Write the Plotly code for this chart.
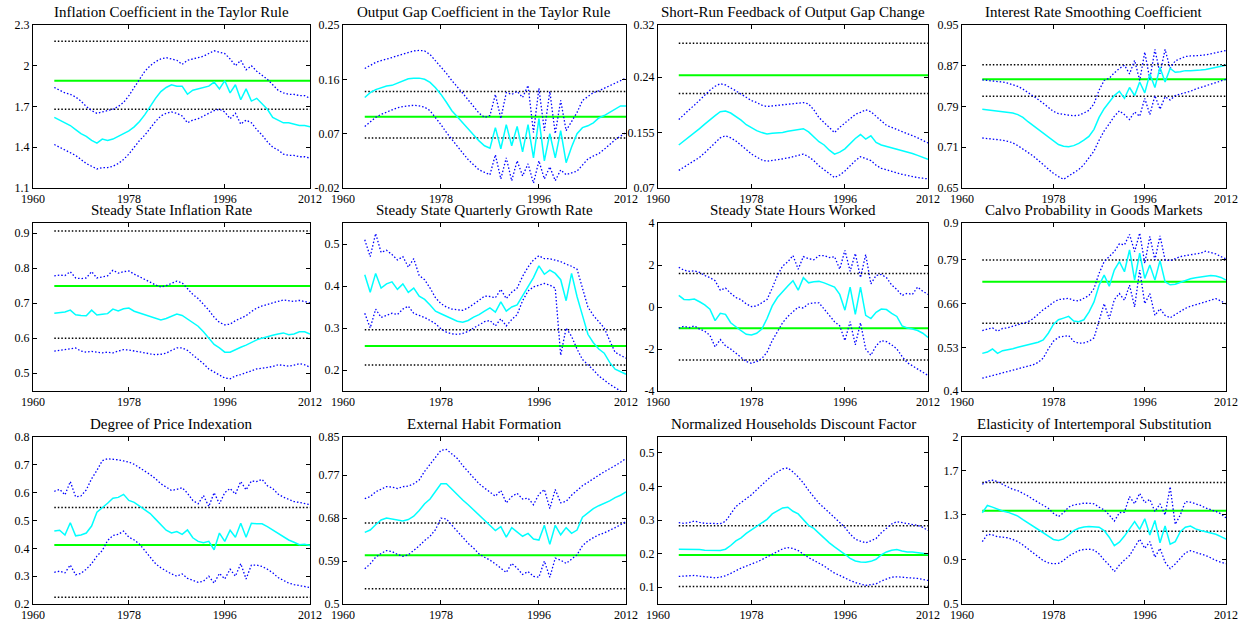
import plotly.graph_objects as go

# ---------------- data ----------------
years = list(range(1964, 2013))

titles = [
    "Inflation Coefficient in the Taylor Rule",
    "Output Gap Coefficient in the Taylor Rule",
    "Short-Run Feedback of Output Gap Change",
    "Interest Rate Smoothing Coefficient",
    "Steady State Inflation Rate",
    "Steady State Quarterly Growth Rate",
    "Steady State Hours Worked",
    "Calvo Probability in Goods Markets",
    "Degree of Price Indexation",
    "External Habit Formation",
    "Normalized Households Discount Factor",
    "Elasticity of Intertemporal Substitution",
]

# P1 Inflation coefficient
infl_upper = [1.84, 1.82, 1.80, 1.79, 1.77, 1.74, 1.70, 1.67, 1.65, 1.66,
              1.67, 1.68, 1.70, 1.73, 1.78, 1.84, 1.91, 1.96, 2.00, 2.03,
              2.05, 2.06, 2.05, 2.04, 2.01, 2.04, 2.05, 2.06, 2.07, 2.09,
              2.11, 2.10, 2.09, 2.05, 2.00, 2.04, 1.97, 2.00, 1.96, 1.93,
              1.90, 1.86, 1.82, 1.80, 1.79, 1.79, 1.78, 1.78, 1.76]
infl_mid = [1.62, 1.60, 1.58, 1.56, 1.53, 1.50, 1.48, 1.45, 1.43, 1.46,
            1.45, 1.46, 1.48, 1.50, 1.52, 1.55, 1.59, 1.64, 1.70, 1.76,
            1.81, 1.84, 1.86, 1.85, 1.85, 1.79, 1.82, 1.83, 1.84, 1.85,
            1.88, 1.83, 1.89, 1.80, 1.86, 1.75, 1.83, 1.74, 1.76, 1.72,
            1.68, 1.62, 1.60, 1.58, 1.58, 1.57, 1.56, 1.56, 1.55]
infl_lower = [1.42, 1.40, 1.38, 1.36, 1.34, 1.31, 1.28, 1.26, 1.24, 1.25,
              1.25, 1.26, 1.28, 1.31, 1.35, 1.40, 1.45, 1.49, 1.54, 1.59,
              1.63, 1.65, 1.66, 1.65, 1.63, 1.58, 1.60, 1.61, 1.63, 1.65,
              1.67, 1.68, 1.66, 1.61, 1.65, 1.57, 1.60, 1.58, 1.53, 1.49,
              1.44, 1.40, 1.38, 1.35, 1.34, 1.34, 1.33, 1.33, 1.32]

# P2 Output gap coefficient
gap_upper = [0.178, 0.183, 0.188, 0.191, 0.193, 0.196, 0.199, 0.202, 0.205, 0.207,
             0.208, 0.207, 0.201, 0.191, 0.181, 0.170, 0.158, 0.148, 0.137, 0.126,
             0.115, 0.104, 0.097, 0.100, 0.135, 0.095, 0.138, 0.135, 0.140, 0.130,
             0.150, 0.072, 0.145, 0.075, 0.140, 0.070, 0.125, 0.075, 0.090, 0.105,
             0.125, 0.132, 0.138, 0.141, 0.145, 0.150, 0.154, 0.158, 0.162]
gap_mid = [0.130, 0.138, 0.143, 0.146, 0.149, 0.150, 0.154, 0.158, 0.161, 0.162,
           0.162, 0.160, 0.155, 0.146, 0.135, 0.122, 0.108, 0.098, 0.088, 0.078,
           0.068, 0.058, 0.050, 0.046, 0.080, 0.045, 0.085, 0.050, 0.082, 0.040,
           0.085, 0.030, 0.095, 0.025, 0.070, 0.030, 0.075, 0.022, 0.048, 0.070,
           0.080, 0.083, 0.088, 0.096, 0.100, 0.105, 0.110, 0.116, 0.116]
gap_lower = [0.082, 0.090, 0.097, 0.102, 0.106, 0.110, 0.113, 0.115, 0.116, 0.117,
             0.116, 0.114, 0.108, 0.097, 0.085, 0.072, 0.060, 0.050, 0.038, 0.027,
             0.018, 0.010, 0.006, 0.002, 0.035, -0.005, 0.030, -0.008, 0.025, 0.000,
             0.020, -0.012, 0.025, -0.005, 0.015, -0.008, 0.010, 0.002, 0.005, 0.008,
             0.018, 0.028, 0.033, 0.037, 0.044, 0.052, 0.060, 0.066, 0.072]

# P3 Short-run feedback of output gap change
srf_upper = [0.175, 0.183, 0.190, 0.197, 0.205, 0.213, 0.220, 0.226, 0.230, 0.228,
             0.224, 0.219, 0.214, 0.209, 0.204, 0.201, 0.197, 0.195, 0.196, 0.197,
             0.197, 0.198, 0.199, 0.200, 0.201, 0.199, 0.190, 0.178, 0.170, 0.163,
             0.155, 0.163, 0.170, 0.177, 0.183, 0.186, 0.190, 0.187, 0.180, 0.172,
             0.166, 0.163, 0.160, 0.157, 0.154, 0.151, 0.147, 0.143, 0.139]
srf_mid = [0.136, 0.142, 0.148, 0.154, 0.161, 0.168, 0.175, 0.181, 0.187, 0.188,
           0.185, 0.180, 0.174, 0.167, 0.162, 0.158, 0.155, 0.153, 0.154, 0.154,
           0.155, 0.157, 0.158, 0.160, 0.161, 0.156, 0.148, 0.141, 0.136, 0.128,
           0.122, 0.125, 0.130, 0.138, 0.146, 0.152, 0.145, 0.150, 0.140, 0.136,
           0.134, 0.131, 0.129, 0.127, 0.125, 0.123, 0.120, 0.117, 0.114]
srf_lower = [0.097, 0.102, 0.106, 0.111, 0.117, 0.124, 0.132, 0.140, 0.147, 0.150,
             0.147, 0.142, 0.136, 0.129, 0.122, 0.117, 0.113, 0.111, 0.112, 0.113,
             0.114, 0.116, 0.118, 0.120, 0.122, 0.118, 0.112, 0.104, 0.098, 0.091,
             0.086, 0.090, 0.096, 0.104, 0.112, 0.118, 0.115, 0.112, 0.105, 0.100,
             0.098, 0.095, 0.093, 0.091, 0.089, 0.088, 0.086, 0.085, 0.084]

# P4 Interest rate smoothing
smooth_upper = [0.849, 0.848, 0.848, 0.847, 0.845, 0.843, 0.840, 0.837, 0.832, 0.826,
                0.819, 0.813, 0.806, 0.798, 0.791, 0.787, 0.785, 0.784, 0.783, 0.784,
                0.788, 0.793, 0.805, 0.830, 0.848, 0.852, 0.862, 0.870, 0.876, 0.860,
                0.885, 0.848, 0.900, 0.850, 0.905, 0.860, 0.905, 0.870, 0.884, 0.888,
                0.892, 0.893, 0.893, 0.894, 0.895, 0.897, 0.898, 0.900, 0.903]
smooth_mid = [0.795, 0.794, 0.793, 0.792, 0.791, 0.790, 0.788, 0.785, 0.780, 0.772,
              0.765, 0.758, 0.751, 0.744, 0.737, 0.730, 0.727, 0.726, 0.728, 0.732,
              0.738, 0.745, 0.758, 0.780, 0.796, 0.808, 0.820, 0.828, 0.815, 0.835,
              0.820, 0.845, 0.825, 0.860, 0.835, 0.872, 0.845, 0.870, 0.863, 0.864,
              0.866, 0.866, 0.866, 0.867, 0.868, 0.870, 0.872, 0.874, 0.876]
smooth_lower = [0.742, 0.741, 0.741, 0.740, 0.738, 0.736, 0.733, 0.728, 0.722, 0.716,
                0.709, 0.701, 0.693, 0.685, 0.677, 0.671, 0.666, 0.672, 0.678, 0.684,
                0.693, 0.705, 0.718, 0.738, 0.755, 0.768, 0.782, 0.792, 0.785, 0.776,
                0.790, 0.782, 0.815, 0.785, 0.820, 0.795, 0.818, 0.812, 0.820, 0.823,
                0.825, 0.828, 0.832, 0.835, 0.838, 0.840, 0.843, 0.846, 0.850]

# P5 Steady state inflation
ssinf_upper = [0.778, 0.780, 0.779, 0.790, 0.772, 0.770, 0.772, 0.790, 0.772, 0.775,
               0.778, 0.794, 0.786, 0.790, 0.792, 0.783, 0.776, 0.769, 0.760, 0.752,
               0.746, 0.750, 0.756, 0.763, 0.758, 0.740, 0.725, 0.713, 0.698, 0.680,
               0.660, 0.645, 0.638, 0.640, 0.650, 0.658, 0.664, 0.676, 0.686, 0.692,
               0.697, 0.700, 0.705, 0.709, 0.706, 0.705, 0.708, 0.705, 0.701]
ssinf_mid = [0.671, 0.672, 0.675, 0.680, 0.667, 0.665, 0.664, 0.680, 0.666, 0.668,
             0.670, 0.683, 0.678, 0.684, 0.686, 0.677, 0.672, 0.666, 0.662, 0.657,
             0.652, 0.656, 0.662, 0.669, 0.665, 0.655, 0.645, 0.634, 0.618, 0.600,
             0.582, 0.572, 0.560, 0.560, 0.568, 0.574, 0.580, 0.588, 0.595, 0.600,
             0.605, 0.608, 0.612, 0.615, 0.610, 0.612, 0.618, 0.618, 0.612]
ssinf_lower = [0.563, 0.565, 0.567, 0.570, 0.572, 0.563, 0.560, 0.562, 0.560, 0.558,
               0.560, 0.558, 0.563, 0.567, 0.566, 0.564, 0.561, 0.558, 0.555, 0.553,
               0.554, 0.557, 0.565, 0.572, 0.572, 0.565, 0.552, 0.540, 0.527, 0.512,
               0.503, 0.495, 0.486, 0.484, 0.492, 0.496, 0.502, 0.508, 0.512, 0.514,
               0.516, 0.519, 0.524, 0.522, 0.520, 0.523, 0.527, 0.524, 0.517]

# P6 Steady state quarterly growth
growth_upper = [0.510, 0.470, 0.525, 0.480, 0.485, 0.475, 0.462, 0.470, 0.445, 0.465,
                0.425, 0.415, 0.395, 0.372, 0.358, 0.350, 0.345, 0.343, 0.342, 0.348,
                0.356, 0.366, 0.376, 0.375, 0.372, 0.392, 0.370, 0.385, 0.395, 0.423,
                0.445, 0.462, 0.472, 0.465, 0.465, 0.462, 0.458, 0.452, 0.447, 0.440,
                0.395, 0.350, 0.330, 0.315, 0.300, 0.270, 0.242, 0.235, 0.228]
growth_mid = [0.427, 0.385, 0.430, 0.395, 0.405, 0.410, 0.392, 0.405, 0.385, 0.395,
              0.376, 0.368, 0.355, 0.340, 0.334, 0.328, 0.322, 0.316, 0.314, 0.318,
              0.326, 0.332, 0.340, 0.348, 0.338, 0.362, 0.340, 0.350, 0.355, 0.376,
              0.400, 0.420, 0.448, 0.428, 0.438, 0.430, 0.415, 0.365, 0.430, 0.375,
              0.330, 0.285, 0.265, 0.250, 0.240, 0.218, 0.202, 0.195, 0.190]
growth_lower = [0.335, 0.300, 0.345, 0.325, 0.330, 0.335, 0.332, 0.345, 0.352, 0.335,
                0.330, 0.325, 0.318, 0.310, 0.298, 0.290, 0.286, 0.285, 0.287, 0.292,
                0.300, 0.308, 0.315, 0.318, 0.305, 0.322, 0.305, 0.320, 0.332, 0.365,
                0.388, 0.398, 0.402, 0.406, 0.402, 0.395, 0.235, 0.300, 0.280, 0.250,
                0.225, 0.213, 0.200, 0.186, 0.175, 0.166, 0.158, 0.150, 0.145]

# P7 Steady state hours worked
hours_upper = [1.89, 1.75, 1.70, 1.72, 1.65, 1.50, 1.40, 1.25, 0.80, 0.90,
               0.65, 0.45, 0.35, 0.15, 0.02, 0.05, 0.20, 0.36, 0.90, 1.50,
               1.95, 2.15, 2.45, 1.80, 2.40, 2.30, 2.25, 2.45, 2.45, 2.35,
               2.40, 1.80, 2.70, 1.70, 2.55, 1.40, 2.50, 1.10, 1.50, 1.55,
               1.40, 1.05, 0.83, 0.55, 0.65, 0.60, 0.95, 0.75, 0.60]
hours_mid = [0.55, 0.36, 0.35, 0.38, 0.25, 0.10, -0.10, -0.65, -0.30, -0.35,
             -0.75, -0.95, -1.13, -1.30, -1.33, -1.25, -1.05, -0.55, 0.05, 0.45,
             0.75, 1.00, 1.25, 0.80, 1.40, 1.15, 1.20, 1.22, 1.15, 1.05,
             0.95, 0.60, -0.15, 0.95, -0.35, 0.95, -0.40, -0.55, -0.25, -0.10,
             -0.12, -0.30, -0.45, -0.90, -1.00, -1.05, -1.12, -1.25, -1.45]
hours_lower = [-1.00, -0.92, -0.98, -0.90, -1.05, -1.15, -1.35, -1.90, -1.55, -1.85,
               -2.00, -2.20, -2.40, -2.60, -2.68, -2.60, -2.45, -2.15, -1.60, -1.15,
               -0.75, -0.45, -0.20, 0.00, -0.05, 0.15, 0.20, 0.20, -0.10, -0.40,
               -0.70, -0.90, -1.60, -0.70, -1.80, -0.75, -2.00, -2.30, -1.85, -1.60,
               -1.65, -1.80, -2.00, -2.35, -2.65, -2.80, -2.95, -3.10, -3.26]

# P8 Calvo probability
calvo_upper = [0.580, 0.585, 0.588, 0.578, 0.586, 0.588, 0.593, 0.597, 0.601, 0.606,
               0.615, 0.630, 0.642, 0.652, 0.664, 0.672, 0.675, 0.676, 0.670, 0.668,
               0.676, 0.684, 0.705, 0.750, 0.785, 0.800, 0.815, 0.838, 0.835, 0.866,
               0.815, 0.870, 0.780, 0.860, 0.790, 0.862, 0.790, 0.788, 0.795, 0.800,
               0.803, 0.806, 0.807, 0.810, 0.816, 0.812, 0.808, 0.800, 0.793]
calvo_mid = [0.512, 0.516, 0.525, 0.512, 0.520, 0.522, 0.526, 0.530, 0.534, 0.537,
             0.540, 0.545, 0.552, 0.572, 0.598, 0.612, 0.617, 0.622, 0.608, 0.606,
             0.612, 0.635, 0.665, 0.715, 0.745, 0.712, 0.760, 0.785, 0.755, 0.820,
             0.730, 0.810, 0.735, 0.775, 0.730, 0.788, 0.725, 0.716, 0.718, 0.724,
             0.728, 0.734, 0.737, 0.740, 0.741, 0.744, 0.742, 0.738, 0.730]
calvo_lower = [0.438, 0.442, 0.445, 0.448, 0.452, 0.456, 0.460, 0.465, 0.470, 0.474,
               0.478, 0.485, 0.498, 0.525, 0.548, 0.560, 0.562, 0.565, 0.548, 0.542,
               0.543, 0.548, 0.558, 0.610, 0.660, 0.615, 0.672, 0.690, 0.670, 0.715,
               0.650, 0.760, 0.660, 0.690, 0.625, 0.645, 0.625, 0.618, 0.628, 0.638,
               0.646, 0.652, 0.657, 0.662, 0.667, 0.672, 0.675, 0.668, 0.659]

# P9 Price indexation
index_upper = [0.605, 0.612, 0.592, 0.640, 0.585, 0.588, 0.610, 0.650, 0.680, 0.715,
               0.722, 0.721, 0.718, 0.714, 0.710, 0.702, 0.690, 0.676, 0.665, 0.650,
               0.632, 0.620, 0.608, 0.612, 0.618, 0.598, 0.572, 0.560, 0.590, 0.550,
               0.600, 0.560, 0.600, 0.615, 0.595, 0.640, 0.610, 0.642, 0.640, 0.648,
               0.625, 0.615, 0.595, 0.584, 0.575, 0.568, 0.565, 0.562, 0.557]
index_mid = [0.462, 0.465, 0.448, 0.492, 0.445, 0.448, 0.455, 0.480, 0.530, 0.545,
             0.562, 0.580, 0.583, 0.594, 0.572, 0.565, 0.552, 0.541, 0.525, 0.505,
             0.486, 0.465, 0.455, 0.460, 0.450, 0.466, 0.438, 0.425, 0.420, 0.425,
             0.395, 0.455, 0.425, 0.465, 0.440, 0.490, 0.440, 0.490, 0.488, 0.488,
             0.478, 0.466, 0.455, 0.440, 0.430, 0.422, 0.413, 0.415, 0.410]
index_lower = [0.314, 0.318, 0.312, 0.340, 0.305, 0.310, 0.325, 0.345, 0.372, 0.392,
               0.428, 0.446, 0.450, 0.462, 0.440, 0.430, 0.415, 0.392, 0.368, 0.345,
               0.330, 0.318, 0.308, 0.300, 0.308, 0.292, 0.285, 0.278, 0.282, 0.300,
               0.275, 0.310, 0.290, 0.325, 0.300, 0.345, 0.290, 0.340, 0.340, 0.335,
               0.325, 0.312, 0.295, 0.285, 0.275, 0.270, 0.266, 0.262, 0.259]

# P10 External habit
habit_upper = [0.721, 0.725, 0.735, 0.740, 0.746, 0.745, 0.742, 0.746, 0.747, 0.752,
               0.760, 0.778, 0.792, 0.808, 0.822, 0.824, 0.815, 0.805, 0.790, 0.777,
               0.765, 0.752, 0.743, 0.735, 0.726, 0.738, 0.712, 0.725, 0.732, 0.720,
               0.722, 0.708, 0.730, 0.740, 0.700, 0.740, 0.712, 0.715, 0.728, 0.738,
               0.748, 0.755, 0.763, 0.770, 0.777, 0.783, 0.790, 0.797, 0.805]
habit_mid = [0.650, 0.655, 0.666, 0.676, 0.680, 0.678, 0.676, 0.674, 0.677, 0.684,
             0.696, 0.710, 0.720, 0.736, 0.752, 0.752, 0.740, 0.728, 0.718, 0.708,
             0.697, 0.686, 0.677, 0.666, 0.654, 0.662, 0.640, 0.660, 0.650, 0.642,
             0.648, 0.636, 0.634, 0.665, 0.625, 0.665, 0.645, 0.660, 0.648, 0.655,
             0.682, 0.692, 0.700, 0.706, 0.711, 0.716, 0.723, 0.728, 0.735]
habit_lower = [0.574, 0.584, 0.598, 0.606, 0.612, 0.610, 0.604, 0.600, 0.603, 0.612,
               0.622, 0.633, 0.642, 0.656, 0.680, 0.678, 0.665, 0.652, 0.640, 0.627,
               0.617, 0.605, 0.598, 0.592, 0.584, 0.574, 0.566, 0.585, 0.575, 0.562,
               0.568, 0.558, 0.556, 0.590, 0.556, 0.596, 0.592, 0.585, 0.595, 0.603,
               0.622, 0.632, 0.639, 0.645, 0.649, 0.654, 0.660, 0.666, 0.673]

# P11 Discount factor
disc_upper = [0.292, 0.290, 0.292, 0.297, 0.293, 0.290, 0.290, 0.289, 0.289, 0.296,
              0.318, 0.340, 0.352, 0.364, 0.375, 0.390, 0.405, 0.418, 0.433, 0.443,
              0.452, 0.455, 0.443, 0.428, 0.410, 0.388, 0.370, 0.350, 0.336, 0.322,
              0.308, 0.294, 0.278, 0.258, 0.243, 0.237, 0.232, 0.238, 0.245, 0.262,
              0.276, 0.288, 0.295, 0.292, 0.288, 0.286, 0.284, 0.278, 0.269]
disc_mid = [0.213, 0.213, 0.213, 0.213, 0.212, 0.210, 0.209, 0.208, 0.209, 0.213,
            0.224, 0.238, 0.247, 0.260, 0.271, 0.281, 0.292, 0.302, 0.318, 0.328,
            0.336, 0.338, 0.326, 0.318, 0.302, 0.284, 0.275, 0.260, 0.245, 0.232,
            0.220, 0.210, 0.198, 0.186, 0.178, 0.175, 0.174, 0.177, 0.183, 0.196,
            0.205, 0.210, 0.212, 0.208, 0.205, 0.205, 0.203, 0.201, 0.199]
disc_lower = [0.132, 0.133, 0.134, 0.135, 0.133, 0.131, 0.130, 0.128, 0.130, 0.134,
              0.141, 0.150, 0.157, 0.163, 0.168, 0.175, 0.182, 0.190, 0.199, 0.207,
              0.214, 0.218, 0.215, 0.209, 0.198, 0.188, 0.180, 0.172, 0.163, 0.152,
              0.142, 0.135, 0.127, 0.120, 0.114, 0.109, 0.105, 0.108, 0.110, 0.118,
              0.125, 0.130, 0.131, 0.130, 0.130, 0.128, 0.126, 0.123, 0.120]

# P12 Elasticity of intertemporal substitution
eis_upper = [1.575, 1.605, 1.612, 1.600, 1.575, 1.550, 1.530, 1.518, 1.495, 1.470,
             1.440, 1.415, 1.390, 1.360, 1.315, 1.285, 1.320, 1.370, 1.390, 1.400,
             1.405, 1.405, 1.400, 1.370, 1.345, 1.300, 1.244, 1.320, 1.325, 1.465,
             1.400, 1.494, 1.410, 1.440, 1.330, 1.400, 1.300, 1.553, 1.215, 1.300,
             1.420, 1.415, 1.400, 1.385, 1.362, 1.348, 1.332, 1.310, 1.274]
eis_mid = [1.320, 1.385, 1.370, 1.350, 1.335, 1.325, 1.310, 1.290, 1.258, 1.230,
           1.200, 1.170, 1.140, 1.110, 1.080, 1.070, 1.085, 1.120, 1.160, 1.180,
           1.192, 1.196, 1.194, 1.190, 1.160, 1.100, 1.024, 1.055, 1.110, 1.171,
           1.240, 1.170, 1.265, 1.120, 1.250, 1.050, 1.200, 1.038, 1.060, 1.150,
           1.190, 1.200, 1.175, 1.160, 1.147, 1.135, 1.126, 1.105, 1.082]
eis_lower = [1.060, 1.126, 1.120, 1.105, 1.100, 1.095, 1.080, 1.060, 1.030, 0.995,
             0.960, 0.920, 0.890, 0.870, 0.862, 0.865, 0.890, 0.930, 0.955, 0.980,
             0.990, 0.992, 0.985, 0.950, 0.895, 0.850, 0.790, 0.850, 0.895, 0.935,
             1.010, 1.082, 1.000, 1.060, 0.920, 1.000, 0.876, 0.818, 0.860, 0.915,
             0.960, 0.979, 0.965, 0.950, 0.935, 0.915, 0.891, 0.875, 0.862]

# prior bands (upper, mode, lower) per panel
prior_upper = [2.18, 0.140, 0.292, 0.877, 0.906, 0.296, 1.59, 0.790, 0.547, 0.670, 0.283, 1.591]
prior_mode = [1.89, 0.098, 0.243, 0.850, 0.749, 0.257, -1.01, 0.725, 0.412, 0.602, 0.196, 1.338]
prior_lower = [1.68, 0.063, 0.215, 0.819, 0.600, 0.212, -2.52, 0.602, 0.224, 0.532, 0.102, 1.153]

# y-axis tick values and labels per panel
ytick_vals = [
    [1.1, 1.4, 1.7, 2.0, 2.3],
    [-0.02, 0.07, 0.16, 0.25],
    [0.07, 0.155, 0.24, 0.32],
    [0.65, 0.725, 0.80, 0.875, 0.95],
    [0.5, 0.6, 0.7, 0.8, 0.9],
    [0.2, 0.3, 0.4, 0.5],
    [-4, -2, 0, 2, 4],
    [0.4, 0.53, 0.66, 0.79, 0.9],
    [0.2, 0.3, 0.4, 0.5, 0.6, 0.7, 0.8],
    [0.5, 0.59, 0.68, 0.77, 0.85],
    [0.1, 0.2, 0.3, 0.4, 0.5],
    [0.5, 0.9, 1.3, 1.7, 2.0],
]
ytick_text = [
    ["1.1", "1.4", "1.7", "2", "2.3"],
    ["-0.02", "0.07", "0.16", "0.25"],
    ["0.07", "0.155", "0.24", "0.32"],
    ["0.65", "0.71", "0.79", "0.87", "0.95"],
    ["0.5", "0.6", "0.7", "0.8", "0.9"],
    ["0.2", "0.3", "0.4", "0.5"],
    ["-4", "-2", "0", "2", "4"],
    ["0.4", "0.53", "0.66", "0.79", "0.9"],
    ["0.2", "0.3", "0.4", "0.5", "0.6", "0.7", "0.8"],
    ["0.5", "0.59", "0.68", "0.77", "0.85"],
    ["0.1", "0.2", "0.3", "0.4", "0.5"],
    ["0.5", "0.9", "1.3", "1.7", "2"],
]
y_ranges = [
    [1.1, 2.3], [-0.02, 0.25], [0.07, 0.32], [0.65, 0.95],
    [0.449, 0.929], [0.15, 0.55], [-4, 4], [0.4, 0.9],
    [0.2, 0.8], [0.5, 0.85], [0.05, 0.547], [0.5, 2.0],
]
xtick_vals = [1960, 1978, 1996, 2012]
xtick_text = ["1960", "1978", "1996", "2012"]

bands = [
    (infl_upper, infl_mid, infl_lower),
    (gap_upper, gap_mid, gap_lower),
    (srf_upper, srf_mid, srf_lower),
    (smooth_upper, smooth_mid, smooth_lower),
    (ssinf_upper, ssinf_mid, ssinf_lower),
    (growth_upper, growth_mid, growth_lower),
    (hours_upper, hours_mid, hours_lower),
    (calvo_upper, calvo_mid, calvo_lower),
    (index_upper, index_mid, index_lower),
    (habit_upper, habit_mid, habit_lower),
    (disc_upper, disc_mid, disc_lower),
    (eis_upper, eis_mid, eis_lower),
]

# ---------------- layout geometry ----------------
W, H = 1252, 623
col_px = [(33, 310), (343, 626), (658, 928), (962, 1226)]
row_px = [(25, 188), (223, 391), (437, 604)]

FONT = "Liberation Serif, DejaVu Serif, serif"

fig = go.Figure()
layout = dict(
    template="none",
    width=W, height=H, autosize=False,
    margin=dict(l=0, r=0, t=0, b=0, pad=0, autoexpand=False),
    paper_bgcolor="white", plot_bgcolor="white",
    showlegend=False,
    font=dict(family=FONT, size=12, color="black"),
    annotations=[],
)

for i in range(12):
    r, c = divmod(i, 4)
    n = i + 1
    xa = "x" if n == 1 else f"x{n}"
    ya = "y" if n == 1 else f"y{n}"
    up, mid, lo = bands[i]
    x0, x1 = years[0], years[-1]

    fig.add_trace(go.Scatter(x=[x0, x1], y=[prior_upper[i]] * 2, mode="lines",
                             line=dict(color="black", width=1.5, dash="1.5px,2px"),
                             xaxis=xa, yaxis=ya, hoverinfo="skip"))
    fig.add_trace(go.Scatter(x=[x0, x1], y=[prior_lower[i]] * 2, mode="lines",
                             line=dict(color="black", width=1.5, dash="1.5px,2px"),
                             xaxis=xa, yaxis=ya, hoverinfo="skip"))
    fig.add_trace(go.Scatter(x=[x0, x1], y=[prior_mode[i]] * 2, mode="lines",
                             line=dict(color="#00ff00", width=2),
                             xaxis=xa, yaxis=ya, hoverinfo="skip"))
    fig.add_trace(go.Scatter(x=years, y=up, mode="lines",
                             line=dict(color="#0000ff", width=1.3, dash="1.5px,2px"),
                             xaxis=xa, yaxis=ya))
    fig.add_trace(go.Scatter(x=years, y=lo, mode="lines",
                             line=dict(color="#0000ff", width=1.3, dash="1.5px,2px"),
                             xaxis=xa, yaxis=ya))
    fig.add_trace(go.Scatter(x=years, y=mid, mode="lines",
                             line=dict(color="#00ffff", width=1.5),
                             xaxis=xa, yaxis=ya))

    xd = [col_px[c][0] / W, col_px[c][1] / W]
    yd = [1 - row_px[r][1] / H, 1 - row_px[r][0] / H]
    common = dict(showline=True, linecolor="black", linewidth=1, mirror="ticks",
                  ticks="inside", ticklen=4, tickcolor="black", showgrid=False,
                  zeroline=False, automargin=False,
                  tickfont=dict(family=FONT, size=12, color="black"))
    layout["xaxis" if n == 1 else f"xaxis{n}"] = dict(
        domain=xd, range=[1960, 2012], tickvals=xtick_vals, ticktext=xtick_text,
        anchor=ya, **common)
    layout["yaxis" if n == 1 else f"yaxis{n}"] = dict(
        domain=yd, range=y_ranges[i], tickvals=ytick_vals[i], ticktext=ytick_text[i],
        anchor=xa, **common)
    layout["annotations"].append(dict(
        text=titles[i], xref="paper", yref="paper",
        x=(xd[0] + xd[1]) / 2, y=yd[1], xanchor="center", yanchor="bottom",
        yshift=3, showarrow=False, font=dict(family=FONT, size=15, color="black")))

fig.update_layout(**layout)
# remove the default page margin so the figure fills the window exactly
fig.write_html(
    "out.html",
    config={"displayModeBar": False, "responsive": False},
    post_script="document.body.style.margin='0px';"
                "document.documentElement.style.overflow='hidden';"
                "document.body.style.overflow='hidden';",
)
